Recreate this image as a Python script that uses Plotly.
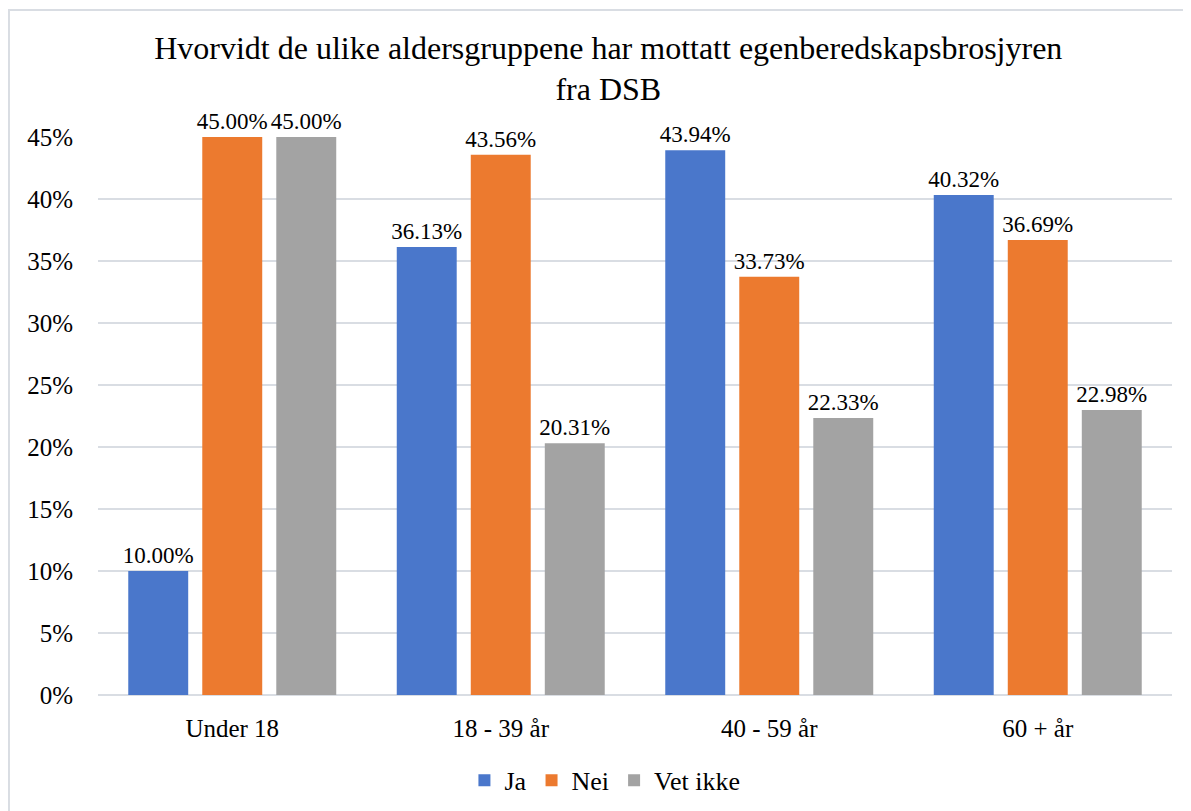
import plotly.graph_objects as go

categories = ["Under 18", "18 - 39 år", "40 - 59 år", "60 + år"]
ja = [10.00, 36.13, 43.94, 40.32]
nei = [45.00, 43.56, 33.73, 36.69]
vet_ikke = [45.00, 20.31, 22.33, 22.98]

series = [
    ("Ja", ja, "#4a77cb"),
    ("Nei", nei, "#ec7a2f"),
    ("Vet ikke", vet_ikke, "#a3a3a3"),
]

SERIF = "Liberation Serif, Times New Roman, serif"

fig = go.Figure()

for name, values, color in series:
    fig.add_trace(go.Bar(
        x=categories,
        y=values,
        name=name,
        marker=dict(color=color, line=dict(width=0)),
        text=[f"{v:.2f}%" for v in values],
        textposition="outside",
        constraintext="none",
        textfont=dict(family=SERIF, size=23, color="#000000"),
        cliponaxis=False,
    ))

# light frame around the chart
fig.add_shape(
    type="rect", xref="paper", yref="paper",
    x0=-0.0829, x1=1.1, y0=-0.25, y1=1.2276,
    line=dict(color="#d9dde3", width=2), fillcolor="rgba(0,0,0,0)",
    layer="below",
)

fig.update_layout(
    title=dict(
        text="Hvorvidt de ulike aldersgruppene har mottatt egenberedskapsbrosjyren<br>fra DSB",
        x=0.504, xanchor="center", y=0.9375, yanchor="top",
        font=dict(family=SERIF, size=32, color="#000000"),
    ),
    barmode="group",
    bargap=0.173,
    bargroupgap=0.19,
    font=dict(family=SERIF, color="#000000"),
    width=1191,
    height=811,
    margin=dict(l=90, r=27, t=129, b=124),
    paper_bgcolor="white",
    plot_bgcolor="white",
    legend=dict(
        orientation="h", x=0.472, xanchor="center", y=-0.111, yanchor="top",
        font=dict(family=SERIF, size=26, color="#000000"),
    ),
    showlegend=True,
)

fig.update_yaxes(
    range=[0, 45],
    dtick=5,
    ticksuffix="%",
    gridcolor="#d9dde3",
    gridwidth=2,
    zeroline=True,
    zerolinecolor="#d9dde3",
    zerolinewidth=2,
    showline=False,
    ticks="",
    tickfont=dict(family=SERIF, size=25, color="#000000"),
    ticklabelstandoff=24,
)
fig.update_xaxes(
    showgrid=False,
    showline=False,
    ticks="",
    tickfont=dict(family=SERIF, size=25, color="#000000"),
    ticklabelstandoff=16,
)

fig.write_html("out.html")
